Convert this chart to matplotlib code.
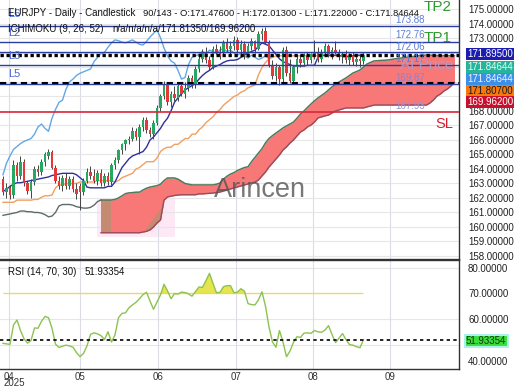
import matplotlib
matplotlib.use('Agg')
import matplotlib.pyplot as plt
import numpy as np

plt.rcParams['font.family'] = ['Liberation Sans', 'DejaVu Sans']

# ---------------- data ----------------
opens = [163.3, 162.4, 162.7, 162.2, 164.3, 163.5, 164.5, 163.0, 162.5, 163.1,
         164.0, 163.8, 164.5, 164.9, 165.2, 164.1, 163.2, 162.8, 163.4, 162.8,
         163.3, 162.6, 162.8, 162.4, 163.2, 163.8, 163.5, 163.2, 163.7, 163.0,
         163.5, 163.1, 164.3, 164.6, 165.3, 165.7, 166.0, 166.1, 166.6, 166.2,
         166.9, 167.4, 166.7, 166.4, 167.2, 168.2, 169.0, 169.8, 168.6, 169.2,
         168.9, 169.7, 169.2, 169.6, 170.3, 169.8, 170.9, 171.6, 172.1, 171.5,
         171.0, 172.3, 172.1, 172.0, 172.7, 172.3, 172.5, 172.9, 172.2, 172.6,
         171.9, 172.5, 172.8, 172.3, 173.3, 173.5, 172.7, 171.2, 170.4, 171.0,
         170.2, 172.2, 170.6, 170.1, 171.0, 171.6, 171.3, 171.8, 171.5, 171.9,
         172.1, 171.6, 172.1, 172.5, 171.9, 172.2, 172.1, 171.7, 171.9, 171.5,
         171.8, 171.4, 171.6, 171.476]
highs = [163.5, 163.0, 162.9, 164.6, 164.5, 164.9, 164.7, 163.2, 163.3, 164.2,
         164.3, 164.7, 165.2, 165.4, 165.3, 164.3, 163.5, 163.6, 163.7, 163.5,
         163.5, 163.0, 163.0, 163.4, 164.1, 164.2, 164.0, 163.9, 164.0, 163.7,
         163.8, 164.4, 164.8, 165.4, 165.8, 166.1, 166.3, 166.9, 166.8, 167.1,
         167.6, 167.6, 166.9, 167.4, 168.4, 169.2, 170.1, 170.0, 169.4, 169.7,
         169.9, 169.9, 170.0, 170.5, 170.5, 171.1, 171.8, 172.3, 172.4, 171.8,
         172.5, 172.6, 172.5, 172.9, 173.0, 172.8, 173.2, 173.1, 172.9, 172.8,
         172.7, 173.0, 172.9, 173.5, 173.7, 173.8, 172.9, 171.5, 171.3, 171.2,
         172.4, 172.5, 171.6, 171.2, 171.8, 171.9, 172.0, 172.1, 172.0, 172.9,
         172.4, 172.3, 172.7, 172.6, 172.4, 172.8, 172.3, 172.1, 172.2, 172.0,
         172.1, 171.9, 171.9, 172.013]
lows = [162.2, 162.0, 161.9, 162.0, 163.2, 163.3, 162.8, 162.3, 162.0, 162.9,
        163.5, 163.6, 164.2, 164.7, 164.0, 163.0, 162.6, 162.5, 162.6, 162.6,
        162.4, 161.9, 161.2, 162.2, 163.0, 163.3, 163.0, 162.9, 162.8, 162.8,
        162.9, 162.9, 164.0, 164.4, 165.0, 165.3, 165.7, 165.9, 166.0, 165.0,
        166.6, 166.5, 166.2, 166.1, 167.0, 168.0, 168.8, 168.4, 168.3, 168.7,
        168.7, 169.0, 168.9, 169.4, 169.6, 169.6, 170.7, 171.4, 171.3, 170.8,
        170.9, 171.9, 171.6, 171.8, 172.1, 171.8, 172.2, 172.0, 171.8, 171.6,
        171.7, 172.2, 172.0, 172.2, 172.9, 172.6, 171.0, 170.2, 170.1, 169.8,
        170.0, 170.4, 169.9, 170.0, 170.6, 171.0, 171.1, 171.2, 171.3, 171.6,
        171.4, 171.4, 171.8, 171.7, 171.6, 171.9, 171.5, 171.3, 171.3, 171.2,
        171.2, 171.1, 171.0, 171.22]
closes = [162.4, 162.7, 162.2, 164.3, 163.5, 164.5, 163.0, 162.5, 163.1, 164.0,
          163.8, 164.5, 165.0, 165.2, 164.1, 163.2, 162.8, 163.4, 162.8, 163.3,
          162.6, 162.3, 162.4, 163.2, 163.8, 163.5, 163.2, 163.7, 163.0, 163.5,
          163.1, 164.3, 164.6, 165.3, 165.7, 166.0, 166.1, 166.6, 166.2, 166.9,
          167.4, 166.7, 166.4, 167.2, 168.2, 169.0, 169.8, 168.6, 169.2, 168.9,
          169.7, 169.2, 169.6, 170.3, 169.8, 170.9, 171.6, 172.1, 171.5, 171.0,
          172.3, 172.1, 171.8, 172.7, 172.3, 172.5, 172.9, 172.2, 172.6, 171.9,
          172.5, 172.8, 172.3, 173.3, 173.5, 172.7, 171.2, 170.4, 171.0, 170.2,
          172.2, 170.6, 170.1, 171.0, 171.6, 171.3, 171.8, 171.5, 171.9, 172.1,
          171.6, 172.1, 172.5, 171.9, 172.2, 172.1, 171.7, 171.9, 171.5, 171.8,
          171.4, 171.6, 171.45, 171.846]

tenkan = [162.45, 162.6, 162.8, 162.95, 163.05, 163.05, 163.1, 163.15, 163.2, 163.25,
          163.3, 163.35, 163.4, 163.45, 163.55, 163.6, 163.65, 163.7, 163.7, 163.7,
          163.7, 163.6, 163.4, 163.2, 162.75, 162.7, 162.7, 162.7, 162.7, 162.7,
          162.8, 162.8, 163.1, 163.6, 164.1, 164.4, 164.7, 164.9, 165.0, 165.1,
          165.2, 165.5, 166.0, 166.2, 166.5, 166.8, 167.2, 167.5, 168.0, 168.6,
          168.9, 169.2, 169.45, 169.6, 169.75, 169.9, 170.2, 170.45, 170.65, 170.8,
          171.0, 171.1, 171.2, 171.35, 171.45, 171.5, 171.5, 171.55, 171.7, 171.85,
          172.0, 172.1, 172.2, 172.45, 172.7, 172.6, 172.5, 172.2, 171.9, 171.6,
          171.4, 171.3, 171.2, 171.1, 171.1, 171.1, 171.1, 171.15, 171.15, 171.15,
          171.7, 171.85, 171.85, 171.85, 171.85, 171.85, 171.85, 171.75, 171.75, 171.75,
          171.8, 171.85, 171.85, 171.895]
kijun = [161.7, 161.7, 161.7, 161.7, 161.85, 161.85, 161.85, 161.85, 161.85, 161.9,
         161.9, 162.05, 162.15, 162.15, 162.2, 162.7, 162.9, 162.9, 163.0, 163.0,
         163.0, 163.0, 163.1, 163.1, 163.1, 163.1, 163.1, 163.2, 163.2, 163.2,
         163.2, 163.2, 163.1, 163.2, 163.4, 163.5, 163.6, 163.7, 164.0, 164.1,
         164.3, 164.5, 164.5, 164.5, 164.75, 165.2, 165.4, 165.5, 165.5, 165.7,
         165.7, 165.9, 166.1, 166.1, 166.4, 166.4, 166.7, 166.9, 167.2, 167.4,
         167.6, 167.9, 168.1, 168.4, 168.6, 168.8, 169.0, 169.1, 169.3, 169.4,
         169.6, 169.7, 169.8, 170.5, 171.0, 171.35, 171.6, 171.7, 171.807, 171.807,
         171.807, 171.807, 171.807, 171.807, 171.807, 171.807, 171.807, 171.807, 171.807, 171.807,
         171.807, 171.807, 171.807, 171.807, 171.807, 171.807, 171.807, 171.807, 171.807, 171.807,
         171.807, 171.807, 171.807, 171.807]
chikou = [163.6, 164.4, 164.9, 165.35, 165.55, 165.75, 165.9, 166.0, 166.1, 166.4,
          166.9, 167.1, 166.8, 166.6, 167.5, 168.1, 168.6, 168.75, 169.5, 170.0,
          170.2, 170.45, 170.6, 170.7, 170.8, 170.9, 171.4, 171.7, 171.95, 172.05,
          172.4, 172.7, 172.9, 172.85, 172.75, 172.7, 172.8, 172.9, 172.75, 172.6,
          172.55, 172.8, 173.1, 173.35, 173.6, 173.05, 172.35, 171.8, 171.45, 171.3,
          170.8, 170.2, 170.3, 171.2, 171.7, 171.8, 171.9, 172.1, 171.9, 172.2,
          172.1, 171.95, 172.2, 172.3, 172.1, 172.2, 172.0, 171.85, 172.0, 171.8,
          171.65, 171.85, 171.7, 171.55, 171.65, 171.8, 171.6, 171.85]
span_pre = [160.8, 160.85, 160.9, 160.95, 161.0, 161.1, 161.1, 161.05, 161.05, 161.0,
            161.0, 160.95, 160.85, 160.7, 160.75, 161.0, 161.45, 161.55, 161.55, 161.55,
            161.5, 161.4, 161.35, 161.3, 161.3, 161.35, 161.5, 161.75, 161.86]
span_a = [161.86, 161.86, 161.86, 161.86, 161.9, 162.0, 162.15, 162.3, 162.35, 162.37,
          162.4, 162.4, 162.55, 162.67, 162.75, 162.8, 162.85, 162.95, 163.2, 163.38,
          163.38, 163.38, 163.3, 163.15, 163.0, 162.95, 162.9, 162.9, 162.9, 162.9,
          162.9, 162.9, 162.9, 162.95, 163.03, 163.3, 163.5, 163.65, 163.75, 163.9,
          164.0, 164.1, 164.15, 164.5, 164.8, 165.1, 165.4, 165.8, 166.1, 166.3,
          166.48, 166.65, 166.83, 166.97, 167.1, 167.24, 167.5, 167.79, 168.0, 168.25,
          168.48, 168.7, 168.9, 169.07, 169.24, 169.45, 169.66, 169.83, 170.0, 170.14,
          170.28, 170.45, 170.62, 170.72, 170.83, 171.03, 171.24, 171.35, 171.45, 171.47,
          171.49, 171.5, 171.52, 171.55, 171.6, 171.63, 171.66, 171.7, 171.73, 171.76,
          171.79, 171.82, 171.84, 171.86, 171.85, 171.84, 171.83, 171.82, 171.82, 171.82,
          171.815, 171.8135]
span_b = [159.6, 159.6, 159.6, 159.6, 159.6, 159.6, 159.6, 159.6, 159.6, 159.6,
          159.6, 159.6, 159.65, 159.7, 159.8, 160.0, 160.28, 160.48, 161.85, 162.07,
          162.12, 162.17, 162.2, 162.22, 162.22, 162.22, 162.22, 162.22, 162.28, 162.28,
          162.3, 162.32, 162.34, 162.37, 162.41, 162.48, 162.55, 162.62, 162.69, 162.76,
          162.83, 162.9, 162.97, 163.03, 163.1, 163.24, 163.52, 163.79, 164.14, 164.41,
          164.69, 164.97, 165.31, 165.52, 165.79, 166.0, 166.28, 166.55, 166.69, 166.9,
          167.03, 167.24, 167.52, 167.59, 167.66, 167.72, 167.86, 168.0, 168.07, 168.14,
          168.21, 168.21, 168.21, 168.21, 168.21, 168.21, 168.28, 168.34, 168.41, 168.41,
          168.41, 168.41, 168.41, 168.41, 168.41, 168.41, 168.41, 168.41, 168.41, 168.41,
          168.41, 168.41, 168.41, 168.41, 168.55, 168.76, 169.03, 169.17, 169.38, 169.52,
          169.72, 169.962]
cloud_start = 28
brown_top = [159.65, 159.95, 160.3, 160.6, 160.95, 161.3, 161.85]
brown_start = 40

rsi = [50.5, 50.3, 50.1, 57.7, 59.6, 55.5, 52.3, 50.6, 51.6, 56.5,
       56.4, 59.1, 61.0, 60.5, 56.4, 50.2, 48.9, 49.4, 49.8, 49.5,
       49.0, 46.9, 45.3, 46.6, 49.5, 54.0, 54.6, 54.2, 53.5, 52.0,
       55.0, 51.0, 53.8, 60.5, 62.2, 62.4, 64.4, 65.5, 66.5, 67.9,
       69.5, 70.4, 67.0, 63.8, 66.6, 69.4, 73.5, 71.0, 67.9, 69.9,
       69.7, 70.5, 70.3, 69.8, 68.9, 70.7, 72.5, 72.3, 75.0, 77.8,
       73.9, 70.2, 70.4, 72.6, 73.0, 73.0, 70.2, 70.5, 71.8, 70.8,
       66.0, 65.6, 65.5, 67.5, 70.6, 65.0, 56.9, 51.0, 49.0, 55.5,
       51.0, 45.3, 47.5, 50.9, 53.1, 52.8, 54.5, 54.6, 54.4, 55.5,
       55.0, 54.8, 55.7, 57.4, 54.0, 50.8, 52.5, 54.3, 52.0, 50.0,
       49.8, 49.2, 48.8, 51.93354]

month_labels = ['04', '05', '06', '07', '08', '09']
month_pos = [1.7, 22.0, 44.3, 66.6, 88.6, 110.6]

level_values = [173.88, 172.76, 172.06, 171.17, 169.87]
sl_value = 167.93
current_values = [171.895, 171.84644, 171.807]
span_b_now = 169.962
price_ticks = list(range(158, 176))
hidden_ticks = [169, 170, 171, 172]   # covered by the value boxes in the reference

# ---------------- figure ----------------
W, H = 520, 390
fig = plt.figure(figsize=(W / 100, H / 100), dpi=100)
ax = fig.add_axes([0, 1 - 259 / H, 459 / W, 259 / H])
rx = fig.add_axes([0, 1 - 369 / H, 459 / W, 109 / H])

n = len(closes)
idx = np.arange(n)
o = np.array(opens); c = np.array(closes)

for a in (ax, rx):
    a.set_xlim(-0.857, 130.29)
    a.set_xticks(month_pos)
    a.grid(axis='x', color='#dcdce8', lw=0.8, zorder=0)
    a.spines['left'].set_visible(False)
    for s in ('right', 'bottom', 'top'):
        a.spines[s].set_color('#333333')
        a.spines[s].set_linewidth(1.0)
    a.yaxis.tick_right()
    a.tick_params(axis='both', length=0, labelsize=7, colors='#222222')
    a.set_axisbelow(True)

ax.spines['top'].set_visible(False)
ax.set_ylim(157.79, 175.655)
ax.set_yticks(price_ticks)
ax.set_yticklabels(['' if p in hidden_ticks else f'{p:.5f}' for p in price_ticks])
ax.tick_params(axis='y', pad=6.5)
ax.tick_params(axis='x', labelbottom=False)
ax.grid(axis='y', color='#e6e6e6', lw=0.8, zorder=0)

# pink highlight behind the early cloud
ax.axvspan(26.9, 49.1, ymin=0.085, ymax=0.236, color='#fde8f6', lw=0, zorder=0.5)

# cloud
ci = np.arange(cloud_start, cloud_start + len(span_a))
sa = np.array(span_a); sb = np.array(span_b)
ax.fill_between(ci, sa, sb, color='#f87878', lw=0, zorder=1)
ax.fill_between(ci[:4], sa[:4], sb[:4], color='#c48a72', lw=0, zorder=1.1)
bi = np.arange(brown_start, brown_start + len(brown_top))
ax.fill_between(bi, sb[brown_start - cloud_start:brown_start - cloud_start + len(brown_top)],
                brown_top, color='#c48a72', lw=0, zorder=1.1)
ax.plot(ci, sa, color='#4f7a5c', lw=1.1, zorder=1.5)
ax.plot(ci, sb, color='#9a4a5a', lw=1.0, zorder=1.5)
ax.plot(np.arange(len(span_pre)), span_pre, color='#5d6b6b', lw=1.0, zorder=1.5)

# indicator lines
ax.plot(idx, kijun, color='#f0a060', lw=1.0, zorder=2.5)
ax.plot(idx, tenkan, color='#30309a', lw=1.0, zorder=2.6)
ax.plot(np.arange(len(chikou)), chikou, color='#62a8e6', lw=1.0, zorder=2.6)

# candles
cols = np.where(c >= o, '#27a861', '#e5383b')
ax.vlines(idx, lows, highs, color='#444444', lw=0.7, zorder=3)
ax.bar(idx, c - o, bottom=o, width=0.74, color=cols, lw=0, zorder=3.2)

# level lines
for v in level_values:
    ax.axhline(v, color='#2b3ea0', lw=1.0, zorder=3.5)
ax.axhline(sl_value, color='#d8283a', lw=1.2, zorder=3.5)
ax.axhline(current_values[1], color='black', lw=2.4, ls=(0, (1, 0.8)), zorder=4)
ax.axhline(span_b_now, color='black', lw=1.5, ls=(0, (3, 2)), zorder=4)

def axp(xp, yp):
    return xp / 459, 1 - yp / 259

txt = dict(transform=ax.transAxes, va='center', ha='left', zorder=6)
# left labels
for lab, yp in [('L6', 14), ('L2', 33), ('L3', 56), ('L5', 74)]:
    ax.text(*axp(8, yp), lab, fontsize=8, color='#4a68d0', **txt)
ax.text(*axp(8, 13), 'EURJPY - Daily - Candlestick', fontsize=7, color='#111111', **txt)
ax.text(*axp(143, 13), '90/143 - O:171.47600 - H:172.01300 - L:171.22000 - C:171.84644',
        fontsize=6.75, color='#111111', **txt)
ax.text(*axp(8, 29), 'ICHIMOKU (9, 26, 52)', fontsize=7, color='#111111', **txt)
ax.text(*axp(112, 29), 'n/a/n/a/n/a/171.81350/169.96200', fontsize=7, color='#111111', **txt)

for lab, yp, col in [('173.88', 20, '#5b7fd6'), ('172.76', 35, '#5b7fd6'),
                     ('172.06', 47, '#5b7fd6'), ('171.17', 59, '#5b7fd6'),
                     ('169.87', 78, '#8f80d0'), ('167.93', 106, '#9a90d8')]:
    ax.text(*axp(395, yp), lab, fontsize=7, color=col, **txt)

ax.text(*axp(424, 7), 'TP2', fontsize=11, color='#2e9a2e', clip_on=True, **txt)
ax.text(*axp(424, 38), 'TP1', fontsize=11, color='#2e9a2e', **txt)
ax.text(*axp(400, 65), 'AI Price', fontsize=11, color='#a8a0d0', alpha=0.85, **txt)
ax.text(*axp(435, 124), 'SL', fontsize=10.5, color='#d42030', **txt)
ax.text(*axp(260, 190), 'Arincen', fontsize=19.5, color='#555555', alpha=0.8,
        transform=ax.transAxes, ha='center', va='center', zorder=6)

# right value boxes
def figp(xp, yp):
    return xp / W, 1 - yp / H

boxes = [('171.89500', 53.8, '#1c1cb0', 'white'),
         ('171.84644', 66.7, '#25b59a', '#eefaf4'),
         ('171.84644', 78.7, '#3b8fe8', '#eef4ff'),
         ('171.80700', 90.8, '#f47a10', '#1a1a1a'),
         ('169.96200', 102.3, '#c8102e', 'white')]
for lab, yp, bg, fg in boxes:
    fig.text(*figp(467, yp), lab, fontsize=7, color=fg, va='center', ha='left',
             bbox=dict(boxstyle='square,pad=0.12', fc=bg, ec='none'), zorder=10)

# ---------------- RSI ----------------
r = np.array(rsi)
rx.set_ylim(40.5, 83.0)
rx.set_yticks([50, 60, 70, 80])
rx.set_yticklabels(['', '60.00000', '70.00000', '80.00000'])
rx.tick_params(axis='y', pad=6.5)
rx.set_xticklabels(month_labels)
rx.tick_params(axis='x', pad=2.5, colors='#333333')
for g in (80, 60, 50):
    rx.axhline(g, color='#e6e6e6', lw=0.8, zorder=0)
rx.hlines(70, 0, n - 1, color='#e8d870', lw=1.0, zorder=1)
rx.fill_between(idx, r, 70, where=r > 70, interpolate=True, color='#e2e030', alpha=0.85, lw=0, zorder=1.5)
rx.plot(idx, r, color='#8cc350', lw=1.0, zorder=2)
rx.axhline(rsi[-1], color='black', lw=1.2, ls=(0, (2, 2)), zorder=3)
rx.text(8 / 459, 0.89, 'RSI (14, 70, 30)', fontsize=7, color='#111111', transform=rx.transAxes, va='center')
rx.text(85 / 459, 0.89, '51.93354', fontsize=7, color='#111111', transform=rx.transAxes, va='center')

fig.text(*figp(468, 362), '40.00000', fontsize=7, color='#222222', va='center', ha='left')
fig.text(*figp(466, 341), '51.93354', fontsize=7, color='#0a3a0a', va='center', ha='left',
         bbox=dict(boxstyle='square,pad=0.15', fc='#3ddc3d', ec='#aef0f0', lw=1.5), zorder=10)
fig.text(*figp(4, 383), '2025', fontsize=7, color='#333333', va='center', ha='left')

fig.savefig('out.png', dpi=100)
